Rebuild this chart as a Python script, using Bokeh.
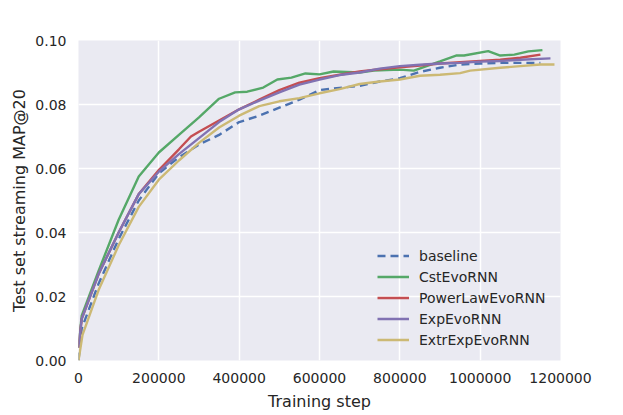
from bokeh.plotting import figure
from bokeh.models import FixedTicker, NumeralTickFormatter, BasicTickFormatter, Legend, LegendItem, Range1d
from bokeh.embed import file_html
from bokeh.resources import INLINE

# ---- data ----
steps_common = [0, 8000, 50000, 100000, 150000, 200000, 250000, 300000, 350000, 400000,
                450000, 500000, 550000, 600000, 650000, 700000, 750000, 800000, 850000,
                900000, 950000, 1000000, 1050000, 1100000, 1150000]

baseline_x = steps_common
baseline_y = [0.0, 0.010, 0.024, 0.038, 0.050, 0.0585, 0.0635, 0.0675, 0.0705, 0.0745,
              0.0765, 0.079, 0.0815, 0.0845, 0.0852, 0.0858, 0.0872, 0.0882, 0.0902,
              0.0915, 0.0925, 0.0928, 0.093, 0.093, 0.093]

cst_x = [0, 8000, 50000, 100000, 150000, 200000, 250000, 300000, 350000, 390000,
         420000, 460000, 495000, 530000, 565000, 600000, 635000, 700000, 735000, 800000,
         835000, 900000, 940000, 960000, 1020000, 1050000, 1085000, 1120000, 1155000]
cst_y = [0.004, 0.014, 0.028, 0.044, 0.0575, 0.065, 0.0705, 0.076, 0.0818, 0.0838,
         0.084, 0.0853, 0.0878, 0.0884, 0.0897, 0.0894, 0.0903, 0.090, 0.0906, 0.0909,
         0.0906, 0.0935, 0.0953, 0.0953, 0.0967, 0.0953, 0.0956, 0.0966, 0.097]

power_x = [0, 8000, 50000, 100000, 150000, 200000, 250000, 280000, 300000, 350000,
           400000, 450000, 500000, 550000, 600000, 650000, 700000, 750000, 800000,
           850000, 900000, 950000, 1000000, 1050000, 1100000, 1150000]
power_y = [0.004, 0.013, 0.027, 0.040, 0.052, 0.0595, 0.066, 0.070, 0.0715, 0.075,
           0.0785, 0.0815, 0.0845, 0.0868, 0.0882, 0.0893, 0.0903, 0.091, 0.0916,
           0.0922, 0.0928, 0.0932, 0.0936, 0.094, 0.0946, 0.0956]

exp_x = [0, 8000, 50000, 100000, 150000, 200000, 250000, 300000, 350000, 400000,
         450000, 500000, 550000, 600000, 650000, 700000, 750000, 800000, 850000,
         900000, 950000, 1000000, 1050000, 1100000, 1175000]
exp_y = [0.004, 0.013, 0.027, 0.040, 0.052, 0.059, 0.0645, 0.0695, 0.0745, 0.0785,
         0.0812, 0.0838, 0.0862, 0.0878, 0.0892, 0.090, 0.0912, 0.092, 0.0924,
         0.0928, 0.093, 0.0934, 0.0936, 0.094, 0.0944]

extr_x = [0, 10000, 50000, 100000, 150000, 200000, 250000, 300000, 350000, 400000,
          450000, 500000, 550000, 600000, 650000, 700000, 750000, 800000, 850000,
          900000, 950000, 975000, 1050000, 1100000, 1150000, 1185000]
extr_y = [0.0, 0.008, 0.022, 0.036, 0.048, 0.0565, 0.0625, 0.068, 0.0728, 0.0765,
          0.0795, 0.081, 0.082, 0.0835, 0.0848, 0.0864, 0.0872, 0.0878, 0.089,
          0.0893, 0.0898, 0.0906, 0.0915, 0.092, 0.0925, 0.0925]

x_ticks = [0, 200000, 400000, 600000, 800000, 1000000, 1200000]
y_ticks = [0.0, 0.02, 0.04, 0.06, 0.08, 0.10]

colors = {"baseline": "#4C72B0", "CstEvoRNN": "#55A868", "PowerLawEvoRNN": "#C44E52",
          "ExpEvoRNN": "#8172B2", "ExtrExpEvoRNN": "#CCB974"}

p = figure(frame_width=482, frame_height=320, output_backend="svg", toolbar_location=None,
           x_range=Range1d(0, 1200000), y_range=Range1d(0, 0.10),
           min_border_left=78, min_border_right=50, min_border_top=40, min_border_bottom=39)
p.background_fill_color = "#EAEAF2"
p.border_fill_color = "white"
p.outline_line_color = None

for g in (p.xgrid, p.ygrid):
    g.grid_line_color = "white"
    g.grid_line_width = 1.5
p.xaxis.ticker = FixedTicker(ticks=x_ticks)
p.yaxis.ticker = FixedTicker(ticks=y_ticks)
p.xaxis.formatter = BasicTickFormatter(use_scientific=False)
p.yaxis.formatter = NumeralTickFormatter(format="0.00")

for ax in (p.xaxis, p.yaxis):
    ax.axis_line_color = None
    ax.major_tick_line_color = None
    ax.minor_tick_line_color = None
    ax.major_label_text_font = "DejaVu Sans"
    ax.major_label_text_font_size = "14px"
    ax.major_label_text_color = "#262626"
    ax.axis_label_text_font = "DejaVu Sans"
    ax.axis_label_text_font_size = "16px"
    ax.axis_label_text_font_style = "normal"
    ax.axis_label_text_color = "#262626"
p.xaxis.axis_label = "Training step"
p.yaxis.axis_label = "Test set streaming MAP@20"
p.xaxis.major_label_standoff = 6
p.yaxis.major_label_standoff = 6
p.xaxis.axis_label_standoff = 6
p.yaxis.axis_label_standoff = 3

lw = 2.4
r_base = p.line(baseline_x, baseline_y, line_color=colors["baseline"], line_width=lw, line_dash="8 5")
r_cst = p.line(cst_x, cst_y, line_color=colors["CstEvoRNN"], line_width=lw)
r_pow = p.line(power_x, power_y, line_color=colors["PowerLawEvoRNN"], line_width=lw)
r_exp = p.line(exp_x, exp_y, line_color=colors["ExpEvoRNN"], line_width=lw)
r_ext = p.line(extr_x, extr_y, line_color=colors["ExtrExpEvoRNN"], line_width=lw)

legend = Legend(items=[
    LegendItem(label="baseline", renderers=[r_base]),
    LegendItem(label="CstEvoRNN", renderers=[r_cst]),
    LegendItem(label="PowerLawEvoRNN", renderers=[r_pow]),
    LegendItem(label="ExpEvoRNN", renderers=[r_exp]),
    LegendItem(label="ExtrExpEvoRNN", renderers=[r_ext]),
], location=(299, 10))
legend.background_fill_alpha = 0
legend.border_line_color = None
legend.padding = 0
legend.margin = 0
legend.spacing = 0
legend.label_height = 21
legend.glyph_height = 21
legend.glyph_width = 32
legend.label_standoff = 10
legend.label_text_font = "DejaVu Sans"
legend.label_text_font_size = "14px"
legend.label_text_color = "#262626"
p.add_layout(legend, "center")

open("out.html", "w").write(file_html(p, INLINE))
